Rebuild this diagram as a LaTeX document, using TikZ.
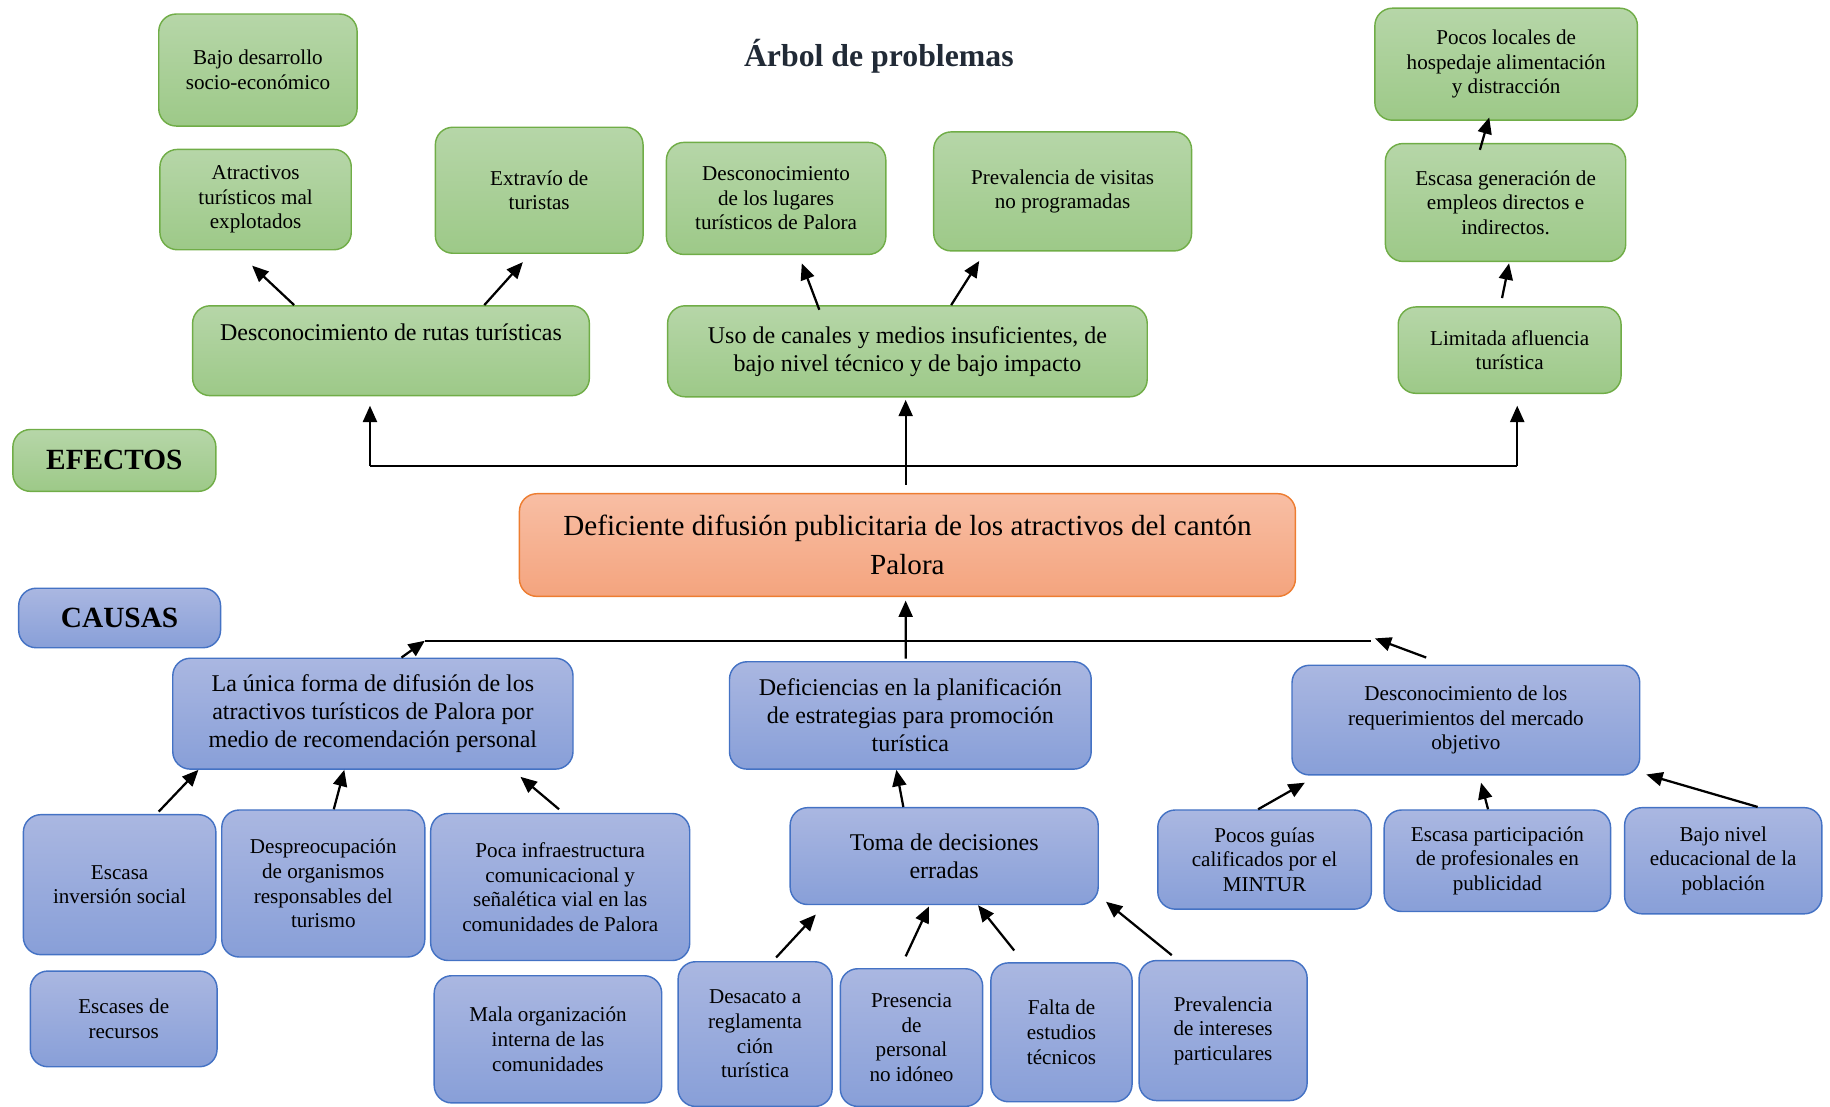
\documentclass[tikz,border=0pt]{standalone}
\usepackage{fontspec}
\setmainfont{Liberation Serif}
\usetikzlibrary{arrows.meta}

\definecolor{verdeA}{RGB}{182,214,168}
\definecolor{verdeB}{RGB}{157,201,136}
\definecolor{verdeBorde}{RGB}{112,173,71}
\definecolor{azulA}{RGB}{170,183,225}
\definecolor{azulB}{RGB}{136,159,216}
\definecolor{azulBorde}{RGB}{68,114,196}
\definecolor{naranjaA}{RGB}{248,190,164}
\definecolor{naranjaB}{RGB}{244,164,126}
\definecolor{naranjaBorde}{RGB}{237,125,49}
\definecolor{titulo}{RGB}{33,42,54}

\tikzset{
  caja/.style={draw, line width=0.7pt, rounded corners=0.3cm, align=center, inner sep=2pt,
    font=\fontsize{10.3}{12}\selectfont},
  efecto/.style={caja, draw=verdeBorde, top color=verdeA, bottom color=verdeB},
  causa/.style={caja, draw=azulBorde, top color=azulA, bottom color=azulB},
  medio/.style={font=\fontsize{11.7}{13.6}\selectfont},
  rotulo/.style={font=\fontsize{14.3}{16}\selectfont\bfseries},
  flecha/.style={-{Triangle[length=0.28cm,width=0.24cm]}, line width=1.1pt},
  linea/.style={line width=0.85pt},
}

\begin{document}
\begin{tikzpicture}[x=0.02cm,y=-0.02cm]
%\draw[help lines, color=gray!30] (0,0) grid[step=50] (1568,948);
\useasboundingbox (0,0) rectangle (1568,948);

\node (titulo) at (753,48) {\color{titulo}\fontsize{15.5}{18}\selectfont\bfseries Árbol de problemas};

% efectos
\node[efecto, minimum width=3.4cm, minimum height=1.92cm] (bajoDes) at (221,60) {Bajo desarrollo\\socio-económico};
\node[efecto, minimum width=3.28cm, minimum height=1.72cm] (atract) at (219,171) {Atractivos\\turísticos mal\\explotados};
\node[efecto, minimum width=3.56cm, minimum height=2.16cm] (extrav) at (462,163) {Extravío de\\turistas};
\node[efecto, minimum width=3.76cm, minimum height=1.92cm] (descLug) at (665,170) {Desconocimiento\\de los lugares\\turísticos de Palora};
\node[efecto, minimum width=4.42cm, minimum height=2.04cm] (prevVis) at (910.5,164) {Prevalencia de visitas\\no programadas};
\node[efecto, minimum width=4.5cm, minimum height=1.92cm] (pocosLoc) at (1290.5,55) {Pocos locales de\\hospedaje alimentación\\y distracción};
\node[efecto, minimum width=4.12cm, minimum height=2.02cm] (escGen) at (1290,173.5) {Escasa generación de\\empleos directos e\\indirectos.};
\node[efecto, medio, minimum width=6.8cm, minimum height=1.54cm] (descRutas) at (335,300.5) {Desconocimiento de rutas turísticas\\ \strut};
\node[efecto, medio, minimum width=8.22cm, minimum height=1.56cm] (usoCan) at (777.5,301) {Uso de canales y medios insuficientes, de\\bajo nivel técnico y de bajo impacto};
\node[efecto, minimum width=3.82cm, minimum height=1.48cm] (limAfl) at (1293.5,300) {Limitada afluencia\\turística};
\node[efecto, rotulo, minimum width=3.48cm, minimum height=1.06cm] (efectos) at (98,394.5) {EFECTOS};

% problema central
\node[caja, draw=naranjaBorde, top color=naranjaA, bottom color=naranjaB, font=\fontsize{14.2}{19.3}\selectfont,
  minimum width=13.3cm, minimum height=1.76cm] (central) at (777.5,467) {Deficiente difusión publicitaria de los atractivos del cantón\\Palora};

% causas
\node[causa, rotulo, minimum width=3.46cm, minimum height=1.02cm] (causas) at (102.5,529.5) {CAUSAS};
\node[causa, medio, minimum width=6.86cm, minimum height=1.9cm] (unica) at (319.5,611.5) {La única forma de difusión de los\\atractivos turísticos de Palora por\\medio de recomendación personal};
\node[causa, medio, minimum width=6.2cm, minimum height=1.84cm] (planif) at (780,613) {Deficiencias en la planificación\\de estrategias para promoción\\turística};
\node[causa, minimum width=5.96cm, minimum height=1.88cm] (descReq) at (1256,617) {Desconocimiento de los\\requerimientos del mercado\\objetivo};
\node[causa, medio, minimum width=5.28cm, minimum height=1.66cm] (toma) at (809,733.5) {Toma de decisiones\\erradas};
\node[causa, minimum width=3.3cm, minimum height=2.4cm] (escInv) at (102.5,758) {Escasa\\inversión social};
\node[causa, minimum width=3.48cm, minimum height=2.52cm] (despreoc) at (277,757) {Despreocupación\\de organismos\\responsables del\\turismo};
\node[causa, minimum width=4.44cm, minimum height=2.52cm] (pocaInf) at (480,760) {Poca infraestructura\\comunicacional y\\señalética vial en las\\comunidades de Palora};
\node[causa, minimum width=3.2cm, minimum height=1.64cm] (escRec) at (106,873) {Escases de\\recursos};
\node[causa, minimum width=3.9cm, minimum height=2.18cm] (malaOrg) at (469.5,890.5) {Mala organización\\interna de las\\comunidades};
\node[causa, minimum width=2.64cm, minimum height=2.48cm] (desacato) at (647,886) {Desacato a\\reglamenta\\ción\\turística};
\node[causa, minimum width=2.44cm, minimum height=2.36cm] (presencia) at (781,889) {Presencia\\de\\personal\\no idóneo};
\node[causa, minimum width=2.42cm, minimum height=2.38cm] (faltaEst) at (909.5,884.5) {Falta de\\estudios\\técnicos};
\node[causa, minimum width=2.88cm, minimum height=2.4cm] (prevInt) at (1048,883) {Prevalencia\\de intereses\\particulares};
\node[causa, minimum width=3.66cm, minimum height=1.7cm] (pocosGuias) at (1083.5,736.5) {Pocos guías\\calificados por el\\MINTUR};
\node[causa, minimum width=3.88cm, minimum height=1.74cm] (escPart) at (1283,737.5) {Escasa participación\\de profesionales en\\publicidad};
\node[causa, minimum width=3.38cm, minimum height=1.82cm] (bajoNiv) at (1476.5,737.5) {Bajo nivel\\educacional de la\\población};

% flechas de efectos
\coordinate (busL) at (317,399);
\coordinate (busR) at (1300,399);
\draw[linea] (busL) -- (busR);
\draw[flecha] ([xshift=-0.03cm,yshift=0.14cm]central.north) -- ([xshift=-0.03cm,yshift=-0.04cm]usoCan.south);
\draw[flecha] (busL) -- ([yshift=-0.16cm]descRutas.south -| busL);
\draw[flecha] (busR) -- ([yshift=-0.2cm]limAfl.south -| busR);
\draw[flecha] ([xshift=-1.66cm]descRutas.north) -- ([xshift=-0.06cm,yshift=-0.26cm]atract.south);
\draw[flecha] ([xshift=1.6cm]descRutas.north) -- ([xshift=-0.28cm,yshift=-0.14cm]extrav.south);
\draw[flecha] ([xshift=-1.51cm,yshift=-0.08cm]usoCan.north) -- ([xshift=0.44cm,yshift=-0.14cm]descLug.south);
\draw[flecha] ([xshift=0.75cm]usoCan.north) -- ([xshift=-1.43cm,yshift=-0.16cm]prevVis.south);
\draw[flecha] ([xshift=-0.13cm,yshift=0.14cm]limAfl.north) -- ([xshift=0.06cm,yshift=-0.02cm]escGen.south);
\draw[flecha] ([xshift=-0.44cm,yshift=-0.12cm]escGen.north) -- ([xshift=-0.29cm,yshift=0.06cm]pocosLoc.south);

% flechas de causas
\coordinate (lineL) at (364,549);
\coordinate (lineR) at (1175,549);
\draw[linea] (lineL) -- (lineR);
\draw[flecha] ([xshift=-0.08cm,yshift=0.04cm]planif.north) -- ([xshift=-0.03cm,yshift=-0.06cm]central.south);
\draw[flecha] ([xshift=0.49cm]unica.north) -- (lineL);
\draw[flecha] ([xshift=-0.68cm,yshift=0.12cm]descReq.north) -- ([xshift=0.06cm,yshift=0.04cm]lineR);
\draw[flecha] ([xshift=0.67cm,yshift=0.04cm]escInv.north) -- ([xshift=-2.99cm]unica.south);
\draw[flecha] ([xshift=0.18cm]despreoc.north) -- ([xshift=-0.49cm]unica.south);
\draw[flecha] ([xshift=-0.02cm,yshift=0.06cm]pocaInf.north) -- ([xshift=2.53cm,yshift=-0.12cm]unica.south);
\draw[flecha] ([xshift=-0.7cm]toma.north) -- ([xshift=-0.24cm]planif.south);
\draw[flecha] ([xshift=0.36cm,yshift=0.06cm]desacato.north) -- ([xshift=-2.2cm,yshift=-0.16cm]toma.south);
\draw[flecha] ([xshift=-0.1cm,yshift=0.2cm]presencia.north) -- ([xshift=-0.26cm,yshift=-0.02cm]toma.south);
\draw[flecha] ([xshift=-0.81cm,yshift=0.2cm]faltaEst.north) -- ([xshift=0.58cm]toma.south);
\draw[flecha] ([xshift=-0.88cm,yshift=0.08cm]prevInt.north) -- ([xshift=0.12cm,yshift=0.06cm]toma.south east);
\draw[flecha] ([xshift=-0.11cm]pocosGuias.north) -- ([xshift=-2.76cm,yshift=-0.12cm]descReq.south);
\draw[flecha] ([xshift=-0.16cm]escPart.north) -- ([xshift=0.26cm,yshift=-0.12cm]descReq.south);
\draw[flecha] ([xshift=0.59cm]bajoNiv.north) -- ([xshift=0.1cm,yshift=0.02cm]descReq.south east);
\end{tikzpicture}
\end{document}
